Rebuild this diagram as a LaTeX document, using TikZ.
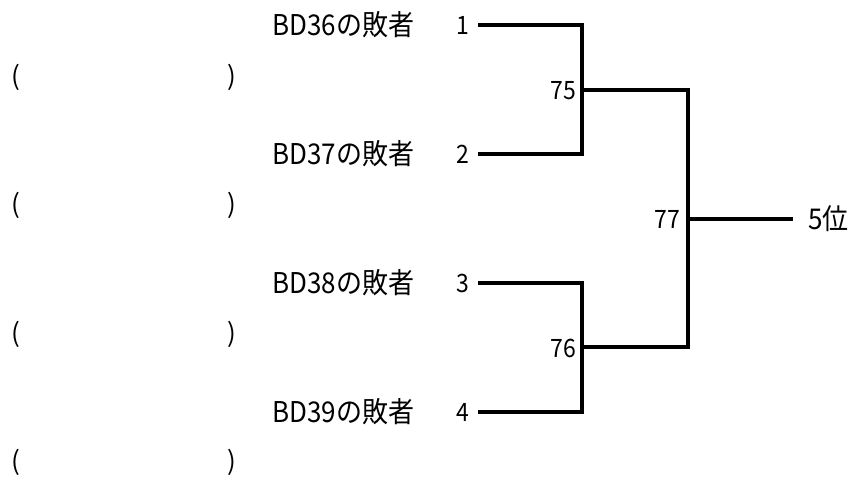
\documentclass[tikz,border=0pt]{standalone}
\usepackage{fontspec}
\setmainfont{Noto Sans CJK JP}
\newcommand{\tall}[1]{\scalebox{1}[1.1]{#1}}
\begin{document}
\begin{tikzpicture}[x=1pt,y=-1pt,
  lbl/.style={inner sep=0pt,anchor=west,font=\fontsize{26}{28}\selectfont},
  num/.style={inner sep=0pt,anchor=east,font=\fontsize{23}{25}\selectfont},
  par/.style={inner sep=0pt,font=\fontsize{26}{28}\selectfont},
  br/.style={line width=3.2pt}]
\useasboundingbox (0,0) rectangle (853,479);
% team labels
\node[lbl] (t1) at (272,25) {\tall{BD36の敗者}};
\node[lbl] (t2) at (272,154) {\tall{BD37の敗者}};
\node[lbl] (t3) at (272,283) {\tall{BD38の敗者}};
\node[lbl] (t4) at (272,412) {\tall{BD39の敗者}};
% seed numbers
\node[num] (n1) at (469,25) {\tall{1}};
\node[num] (n2) at (469,154) {\tall{2}};
\node[num] (n3) at (469,283) {\tall{3}};
\node[num] (n4) at (469,412) {\tall{4}};
% parentheses
\node[par] (pl1) at (16,77) {(};  \node[par] (pr1) at (232,77) {)};
\node[par] (pl2) at (16,205) {(}; \node[par] (pr2) at (232,205) {)};
\node[par] (pl3) at (16,334) {(}; \node[par] (pr3) at (232,334) {)};
\node[par] (pl4) at (16,462) {(}; \node[par] (pr4) at (232,462) {)};
% match labels
\node[num] (m75) at (576,91) {\tall{75}};
\node[num] (m76) at (576,348) {\tall{76}};
\node[num] (m77) at (680,219) {\tall{77}};
\node[lbl] (res) at (808,219) {\tall{5位}};
% bracket coordinates
\coordinate (a1) at (478,25);
\coordinate (a2) at (478,154);
\coordinate (a3) at (478,283);
\coordinate (a4) at (478,412);
\coordinate (j75) at (582,90);
\coordinate (j76) at (582,347);
\coordinate (j77) at (688,219);
\coordinate (e77) at (793,219);
\draw[br] (a1) -| (j75) |- (a2);
\draw[br] (a3) -| (j76) |- (a4);
\draw[br] (j75) -| (j77) |- (j76);
\draw[br] (j77) -- (e77);
\end{tikzpicture}
\end{document}
